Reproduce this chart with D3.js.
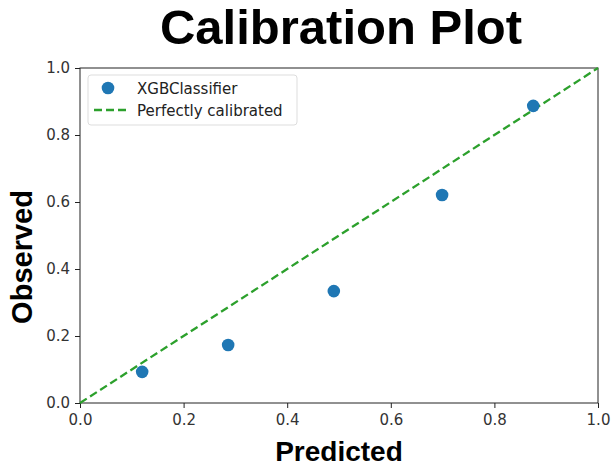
<!DOCTYPE html>
<html>
<head>
<meta charset="utf-8">
<script src="https://d3js.org/d3.v7.min.js"></script>
<style>
  body { margin: 0; background: #fff; }
  .tick text { font-family: "DejaVu Sans", sans-serif; font-size: 15px; fill: #333; }
</style>
</head>
<body>
<script>
// calibration points
var predicted = [0.12, 0.286, 0.49, 0.699, 0.875];
var observed = [0.093, 0.173, 0.334, 0.621, 0.887];
var tickValues = [0, 0.2, 0.4, 0.6, 0.8, 1.0];
var diagonal = [0, 1];

var W = 613, H = 467;
var m = {left: 80, right: 15, top: 68, bottom: 64};

var svg = d3.select("body").append("svg")
    .attr("width", W)
    .attr("height", H);

var x = d3.scaleLinear().domain([0, 1]).range([m.left, W - m.right]);
var y = d3.scaleLinear().domain([0, 1]).range([H - m.bottom, m.top]);

// axes
svg.append("g")
    .attr("transform", "translate(0," + (H - m.bottom) + ")")
    .call(d3.axisBottom(x).tickValues(tickValues).tickFormat(d3.format(".1f")).tickSize(5).tickPadding(6));
svg.append("g")
    .attr("transform", "translate(" + m.left + ",0)")
    .call(d3.axisLeft(y).tickValues(tickValues).tickFormat(d3.format(".1f")).tickSize(5).tickPadding(5));
svg.selectAll(".domain").remove();
svg.selectAll(".tick line").attr("stroke", "#222");

// frame
svg.append("rect")
    .attr("x", x(0)).attr("y", y(1))
    .attr("width", x(1) - x(0)).attr("height", y(0) - y(1))
    .attr("fill", "none").attr("stroke", "#222").attr("stroke-width", 1);

// perfectly calibrated line
svg.append("line")
    .attr("x1", x(diagonal[0])).attr("y1", y(diagonal[0]))
    .attr("x2", x(diagonal[1])).attr("y2", y(diagonal[1]))
    .attr("stroke", "#2ca02c").attr("stroke-width", 2.3)
    .attr("stroke-dasharray", "8,4");

// points
svg.selectAll("circle.pt")
    .data(predicted)
    .enter()
    .append("circle")
    .attr("class", "pt")
    .attr("cx", function(d) { return x(d); })
    .attr("cy", function(d, i) { return y(observed[i]); })
    .attr("r", 6.3)
    .attr("fill", "#1f77b4");

// legend
var lg = svg.append("g").attr("transform", "translate(88,75)");
lg.append("rect")
    .attr("width", 209).attr("height", 50).attr("rx", 3)
    .attr("fill", "#fff").attr("stroke", "#ddd");
lg.append("circle").attr("cx", 20).attr("cy", 13).attr("r", 6.3).attr("fill", "#1f77b4");
lg.append("line").attr("x1", 6).attr("x2", 38).attr("y1", 35).attr("y2", 35)
    .attr("stroke", "#2ca02c").attr("stroke-width", 2.3).attr("stroke-dasharray", "8,4");
lg.append("text").attr("x", 49).attr("y", 19).text("XGBClassifier")
    .attr("font-family", "DejaVu Sans").attr("font-size", 15).attr("fill", "#222");
lg.append("text").attr("x", 49).attr("y", 41).text("Perfectly calibrated")
    .attr("font-family", "DejaVu Sans").attr("font-size", 15).attr("fill", "#222");

// titles
svg.append("text")
    .attr("x", 341).attr("y", 44)
    .attr("text-anchor", "middle")
    .attr("font-family", "Liberation Sans, Arial, sans-serif")
    .attr("font-weight", "bold").attr("font-size", 49)
    .text("Calibration Plot");
svg.append("text")
    .attr("x", 339).attr("y", 461)
    .attr("text-anchor", "middle")
    .attr("font-family", "Liberation Sans, Arial, sans-serif")
    .attr("font-weight", "bold").attr("font-size", 28)
    .text("Predicted");
svg.append("text")
    .attr("transform", "translate(32,257) rotate(-90)")
    .attr("text-anchor", "middle")
    .attr("font-family", "Liberation Sans, Arial, sans-serif")
    .attr("font-weight", "bold").attr("font-size", 29)
    .text("Observed");
</script>
</body>
</html>
